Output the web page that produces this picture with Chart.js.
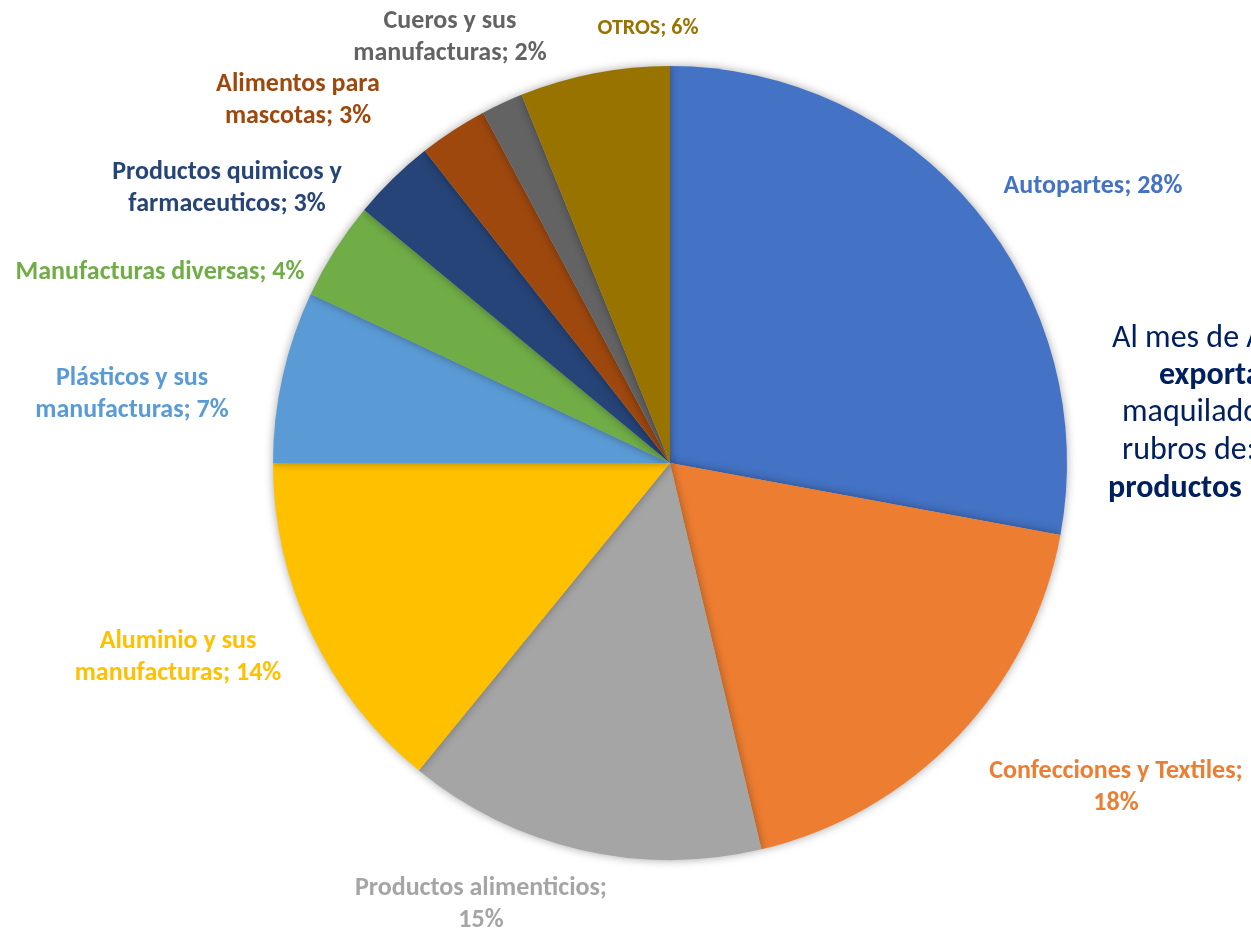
<!DOCTYPE html>
<html>
<head>
<meta charset="utf-8">
<script src="https://cdn.jsdelivr.net/npm/chart.js@4.4.1/dist/chart.umd.min.js"></script>
<style>
  html, body { margin: 0; padding: 0; background: #ffffff; overflow: hidden; }
  #wrap { width: 1251px; height: 930px; position: relative; }
</style>
</head>
<body>
<div id="wrap"><canvas id="c" width="1251" height="930"></canvas></div>
<script>
// ---- Data ----
const categories = [
  "Autopartes",
  "Confecciones y Textiles",
  "Productos alimenticios",
  "Aluminio y sus manufacturas",
  "Plásticos y sus manufacturas",
  "Manufacturas diversas",
  "Productos quimicos y farmaceuticos",
  "Alimentos para mascotas",
  "Cueros y sus manufacturas",
  "OTROS"
];
const shares = [27.9, 18.4, 14.6, 14.1, 7.0, 4.0, 3.4, 2.8, 1.7, 6.1];
const sliceColors = ["#4472C4", "#ED7D31", "#A5A5A5", "#FFC000", "#5B9BD5",
                     "#70AD47", "#264478", "#9E480E", "#636363", "#997300"];
const sideTextLines = [
  { text: "Al mes de Abril, las", bold: false },
  { text: "exportaciones", bold: true },
  { text: "maquiladoras", bold: false },
  { text: "rubros de:", bold: false },
  { text: "productos", bold: true }
];

// ---- Layout (label placement, not data) ----
const FONT = "Carlito, Calibri, Lato, 'Open Sans', sans-serif";
const labelLayout = [
  { x: 1093, y: 186, brk: 0 },
  { x: 1116, y: 771, brk: 3 },
  { x: 481,  y: 888, brk: 2 },
  { x: 178,  y: 641, brk: 3 },
  { x: 132,  y: 378, brk: 3 },
  { x: 160,  y: 272, brk: 0 },
  { x: 227,  y: 172, brk: 3 },
  { x: 298,  y: 84,  brk: 2 },
  { x: 450,  y: 21,  brk: 3 },
  { x: 648,  y: 28,  brk: 0, size: 22 }
];
const sideLayout = [
  { x: 1112, y: 347 }, { x: 1159, y: 384 }, { x: 1122, y: 421 },
  { x: 1122, y: 459 }, { x: 1108, y: 497 }
];

const shadowPlugin = {
  id: 'pieShadow',
  beforeDatasetDraw(chart) {
    const ctx = chart.ctx;
    ctx.save();
    ctx.shadowColor = 'rgba(0,0,0,0.35)';
    ctx.shadowBlur = 10;
    ctx.shadowOffsetX = 0;
    ctx.shadowOffsetY = 0;
  },
  afterDatasetDraw(chart) {
    chart.ctx.restore();
  }
};

const labelPlugin = {
  id: 'pieLabels',
  afterDraw(chart) {
    const ctx = chart.ctx;
    const ds = chart.data.datasets[0];
    ctx.save();
    ctx.textAlign = 'center';
    ctx.textBaseline = 'middle';
    chart.data.labels.forEach((name, i) => {
      const lay = labelLayout[i];
      const full = name + "; " + Math.round(ds.data[i]) + "%";
      const words = full.split(" ");
      const lines = lay.brk ? [words.slice(0, lay.brk).join(" "), words.slice(lay.brk).join(" ")] : [full];
      const size = lay.size || 26;
      ctx.font = "bold " + size + "px " + FONT;
      ctx.fillStyle = ds.backgroundColor[i];
      lines.forEach((ln, k) => ctx.fillText(ln, lay.x, lay.y + k * 32));
    });
    // side text
    ctx.textAlign = 'left';
    ctx.textBaseline = 'alphabetic';
    ctx.fillStyle = '#002060';
    sideTextLines.forEach((l, i) => {
      ctx.font = (l.bold ? "bold " : "") + "32px " + FONT;
      ctx.fillText(l.text, sideLayout[i].x, sideLayout[i].y);
    });
    ctx.restore();
  }
};

new Chart(document.getElementById('c'), {
  type: 'pie',
  data: {
    labels: categories,
    datasets: [{
      data: shares,
      backgroundColor: sliceColors,
      borderWidth: 0
    }]
  },
  options: {
    responsive: false,
    animation: false,
    layout: { padding: { left: 273, right: 184, top: 66, bottom: 70 } },
    plugins: { legend: { display: false }, tooltip: { enabled: false } }
  },
  plugins: [shadowPlugin, labelPlugin]
});
</script>
</body>
</html>
